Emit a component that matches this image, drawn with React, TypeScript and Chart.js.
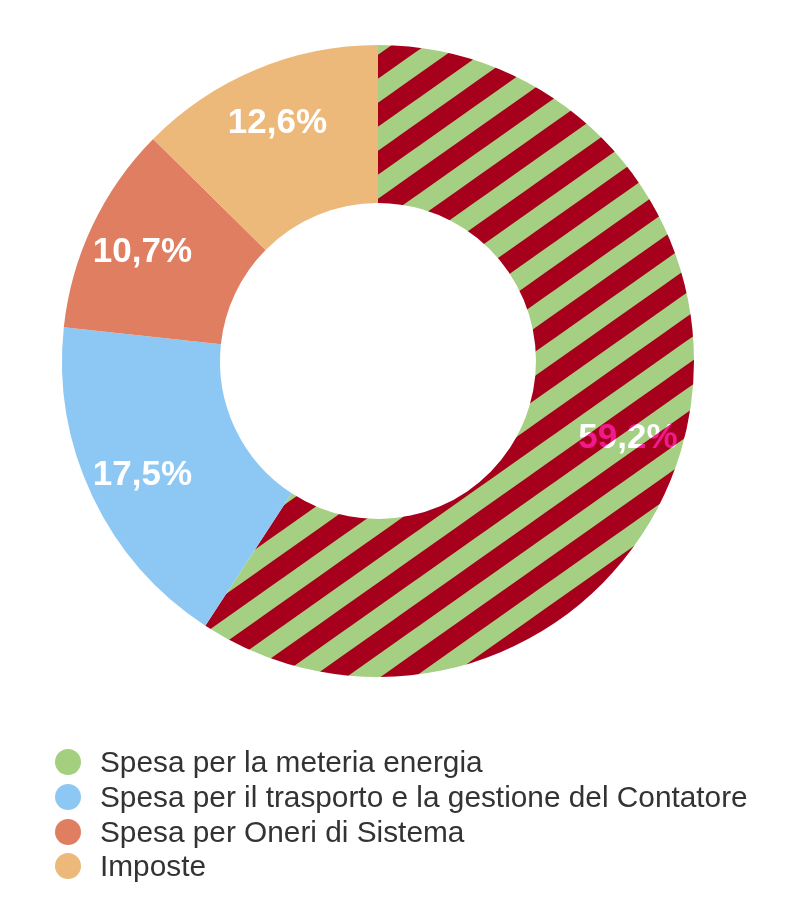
import React, { useEffect, useRef } from "react";
import { Chart, registerables } from "chart.js";

Chart.register(...registerables);

const categories = [
  "Spesa per la meteria energia",
  "Spesa per il trasporto e la gestione del Contatore",
  "Spesa per Oneri di Sistema",
  "Imposte",
];
const values = [59.2, 17.5, 10.7, 12.6];
const valueLabels = ["59,2%", "17,5%", "10,7%", "12,6%"];
const sliceColors = ["stripes", "#8DC8F5", "#E07E62", "#EDB97A"];
const legendColors = ["#A3CF7F", "#8DC8F5", "#E07E62", "#EDB97A"];
const stripeColors = ["#A6001C", "#A5CF82"];
const stripeTextColors = ["#EE1A8E", "#FFFFFF"];

// diagonal stripes tile: horizontal period 68px, vertical period 48px
function makeStripes(ctx: CanvasRenderingContext2D, band: string, base: string) {
  const W = 68;
  const H = 48;
  const phase = 33.6;
  const tile = document.createElement("canvas");
  tile.width = W;
  tile.height = H;
  const t = tile.getContext("2d")!;
  t.fillStyle = base;
  t.fillRect(0, 0, W, H);
  t.fillStyle = band;
  for (let k = -3; k <= 3; k++) {
    const y0 = phase + H * k;
    t.beginPath();
    t.moveTo(0, y0);
    t.lineTo(W, y0 - H);
    t.lineTo(W, y0 - H / 2);
    t.lineTo(0, y0 + H / 2);
    t.closePath();
    t.fill();
  }
  return ctx.createPattern(tile, "repeat")!;
}

export default function App() {
  const ref = useRef<HTMLCanvasElement>(null);

  useEffect(() => {
    const canvas = ref.current!;
    const ctx = canvas.getContext("2d")!;
    const slicePattern = makeStripes(ctx, stripeColors[0], stripeColors[1]);
    const textPattern = makeStripes(ctx, stripeTextColors[0], stripeTextColors[1]);

    const labelPlugin = {
      id: "sliceLabels",
      afterDatasetsDraw(chart: any) {
        const meta = chart.getDatasetMeta(0);
        const c = chart.ctx;
        meta.data.forEach((arc: any, i: number) => {
          const { x, y, startAngle, endAngle, innerRadius, outerRadius } = arc.getProps(
            ["x", "y", "startAngle", "endAngle", "innerRadius", "outerRadius"],
            true
          );
          const mid = (startAngle + endAngle) / 2;
          const r = innerRadius + 0.65 * (outerRadius - innerRadius);
          c.save();
          c.font = 'bold 35px "Liberation Sans", Arial, sans-serif';
          c.textAlign = "center";
          c.textBaseline = "middle";
          c.fillStyle = i === 0 ? textPattern : "#FFFFFF";
          c.fillText(valueLabels[i], x + r * Math.cos(mid), y + r * Math.sin(mid) + 3);
          c.restore();
        });
      },
    };

    const chart = new Chart(canvas, {
      type: "doughnut",
      data: {
        labels: categories,
        datasets: [
          {
            data: values,
            backgroundColor: sliceColors.map((col) => (col === "stripes" ? slicePattern : col)) as any,
            borderWidth: 0,
            hoverOffset: 0,
          },
        ],
      },
      options: {
        responsive: false,
        animation: false,
        cutout: "50%",
        events: [],
        layout: { padding: { left: 62, right: 109, top: 45, bottom: 223 } },
        plugins: {
          legend: { display: false },
          tooltip: { enabled: false },
        },
      },
      plugins: [labelPlugin],
    });
    return () => chart.destroy();
  }, []);

  return (
    <div style={{ position: "absolute", left: 0, top: 0, width: 803, height: 900, background: "#fff" }}>
      <canvas ref={ref} width={803} height={900} style={{ position: "absolute", left: 0, top: 0, width: 803, height: 900 }} />
      <div
        style={{
          position: "absolute",
          left: 0,
          top: 745,
          fontFamily: '"Liberation Sans", Arial, sans-serif',
          fontSize: 29.8,
          color: "#333333",
        }}
      >
        {categories.map((c, i) => (
          <div key={c} style={{ display: "flex", alignItems: "center", height: 34.7, whiteSpace: "nowrap" }}>
            <span
              style={{
                display: "inline-block",
                width: 26,
                height: 26,
                borderRadius: "50%",
                background: legendColors[i],
                marginLeft: 55,
                marginRight: 19,
                flex: "none",
              }}
            />
            <span>{c}</span>
          </div>
        ))}
      </div>
    </div>
  );
}
